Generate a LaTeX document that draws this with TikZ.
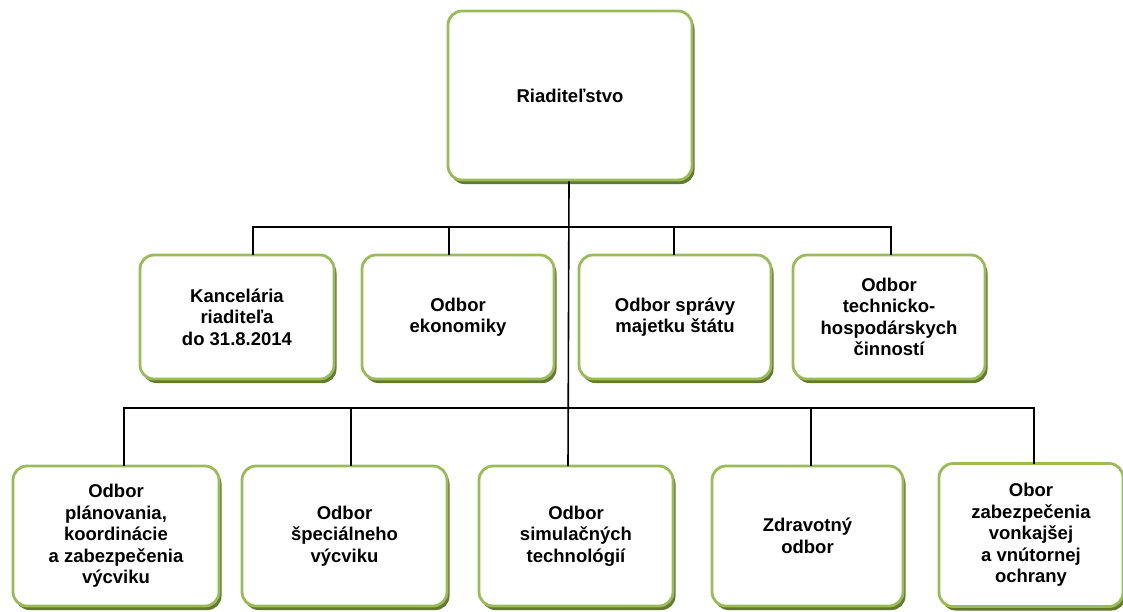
\documentclass[tikz,border=0pt]{standalone}
\usepackage{fontspec}
\setmainfont{Liberation Sans}
\usetikzlibrary{shadows}
\definecolor{boxgreen}{RGB}{155,187,89}
\definecolor{shadowgreen}{RGB}{98,122,48}
\tikzset{
  orgbox/.style={rectangle, rounded corners=14pt, draw=boxgreen, line width=2.8pt,
    fill=white, align=center, inner sep=2pt,
    font=\fontsize{18.5}{21.5}\selectfont\bfseries,
    drop shadow={shadow xshift=2.5pt, shadow yshift=-4pt, fill=shadowgreen, opacity=1}},
  conn/.style={draw=black, line width=1.6pt}
}
\begin{document}
\begin{tikzpicture}[x=1pt,y=-1pt]
\useasboundingbox (0,0) rectangle (1123,611);
% top
\node[orgbox, minimum width=244pt, minimum height=169pt] (top) at (570,95.5) {Riaditeľstvo};
% row 2
\node[orgbox, minimum width=194pt, minimum height=124pt] (kanc) at (237,317) {Kancelária\\riaditeľa\\do 31.8.2014};
\node[orgbox, minimum width=192pt, minimum height=124pt] (ekon) at (458,317) {Odbor\\ekonomiky};
\node[orgbox, minimum width=192pt, minimum height=124pt] (sprava) at (675,317) {Odbor správy\\majetku štátu};
\node[orgbox, minimum width=192pt, minimum height=124pt] (tech) at (889,317) {Odbor\\technicko-\\hospodárskych\\činností};
% row 3
\node[orgbox, minimum width=206pt, minimum height=140pt] (plan) at (116,536) {Odbor\\plánovania,\\koordinácie\\a zabezpečenia\\výcviku};
\node[orgbox, minimum width=205pt, minimum height=140pt] (spec) at (344.5,536) {Odbor\\špeciálneho\\výcviku};
\node[orgbox, minimum width=194pt, minimum height=140pt] (sim) at (576,536) {Odbor\\simulačných\\technológií};
\node[orgbox, minimum width=191pt, minimum height=140pt] (zdrav) at (807.5,536) {Zdravotný\\odbor};
\node[orgbox, minimum width=184pt, minimum height=143pt] (ochr) at (1031,535) {Obor\\zabezpečenia\\vonkajšej\\a vnútornej\\ochrany};
% bus coordinates
\coordinate (busA) at (569,227);
\coordinate (busB) at (569,408);
\coordinate (tk) at (253,255);
\coordinate (te) at (449,255);
\coordinate (ts) at (674,255);
\coordinate (tt) at (891,255);
\coordinate (tp) at (124,466);
\coordinate (tsp) at (351,466);
\coordinate (tsim) at (568,466);
\coordinate (tz) at (811,466);
\coordinate (to) at (1034,464);
% connectors
\draw[conn] (top.south -| busA) -- (tsim);
\draw[conn] (tk) -- (tk |- busA) -- (tt |- busA) -- (tt);
\draw[conn] (te) -- (te |- busA);
\draw[conn] (ts) -- (ts |- busA);
\draw[conn] (tp) -- (tp |- busB) -- (to |- busB) -- (to);
\draw[conn] (tsp) -- (tsp |- busB);
\draw[conn] (tz) -- (tz |- busB);
\end{tikzpicture}
\end{document}
